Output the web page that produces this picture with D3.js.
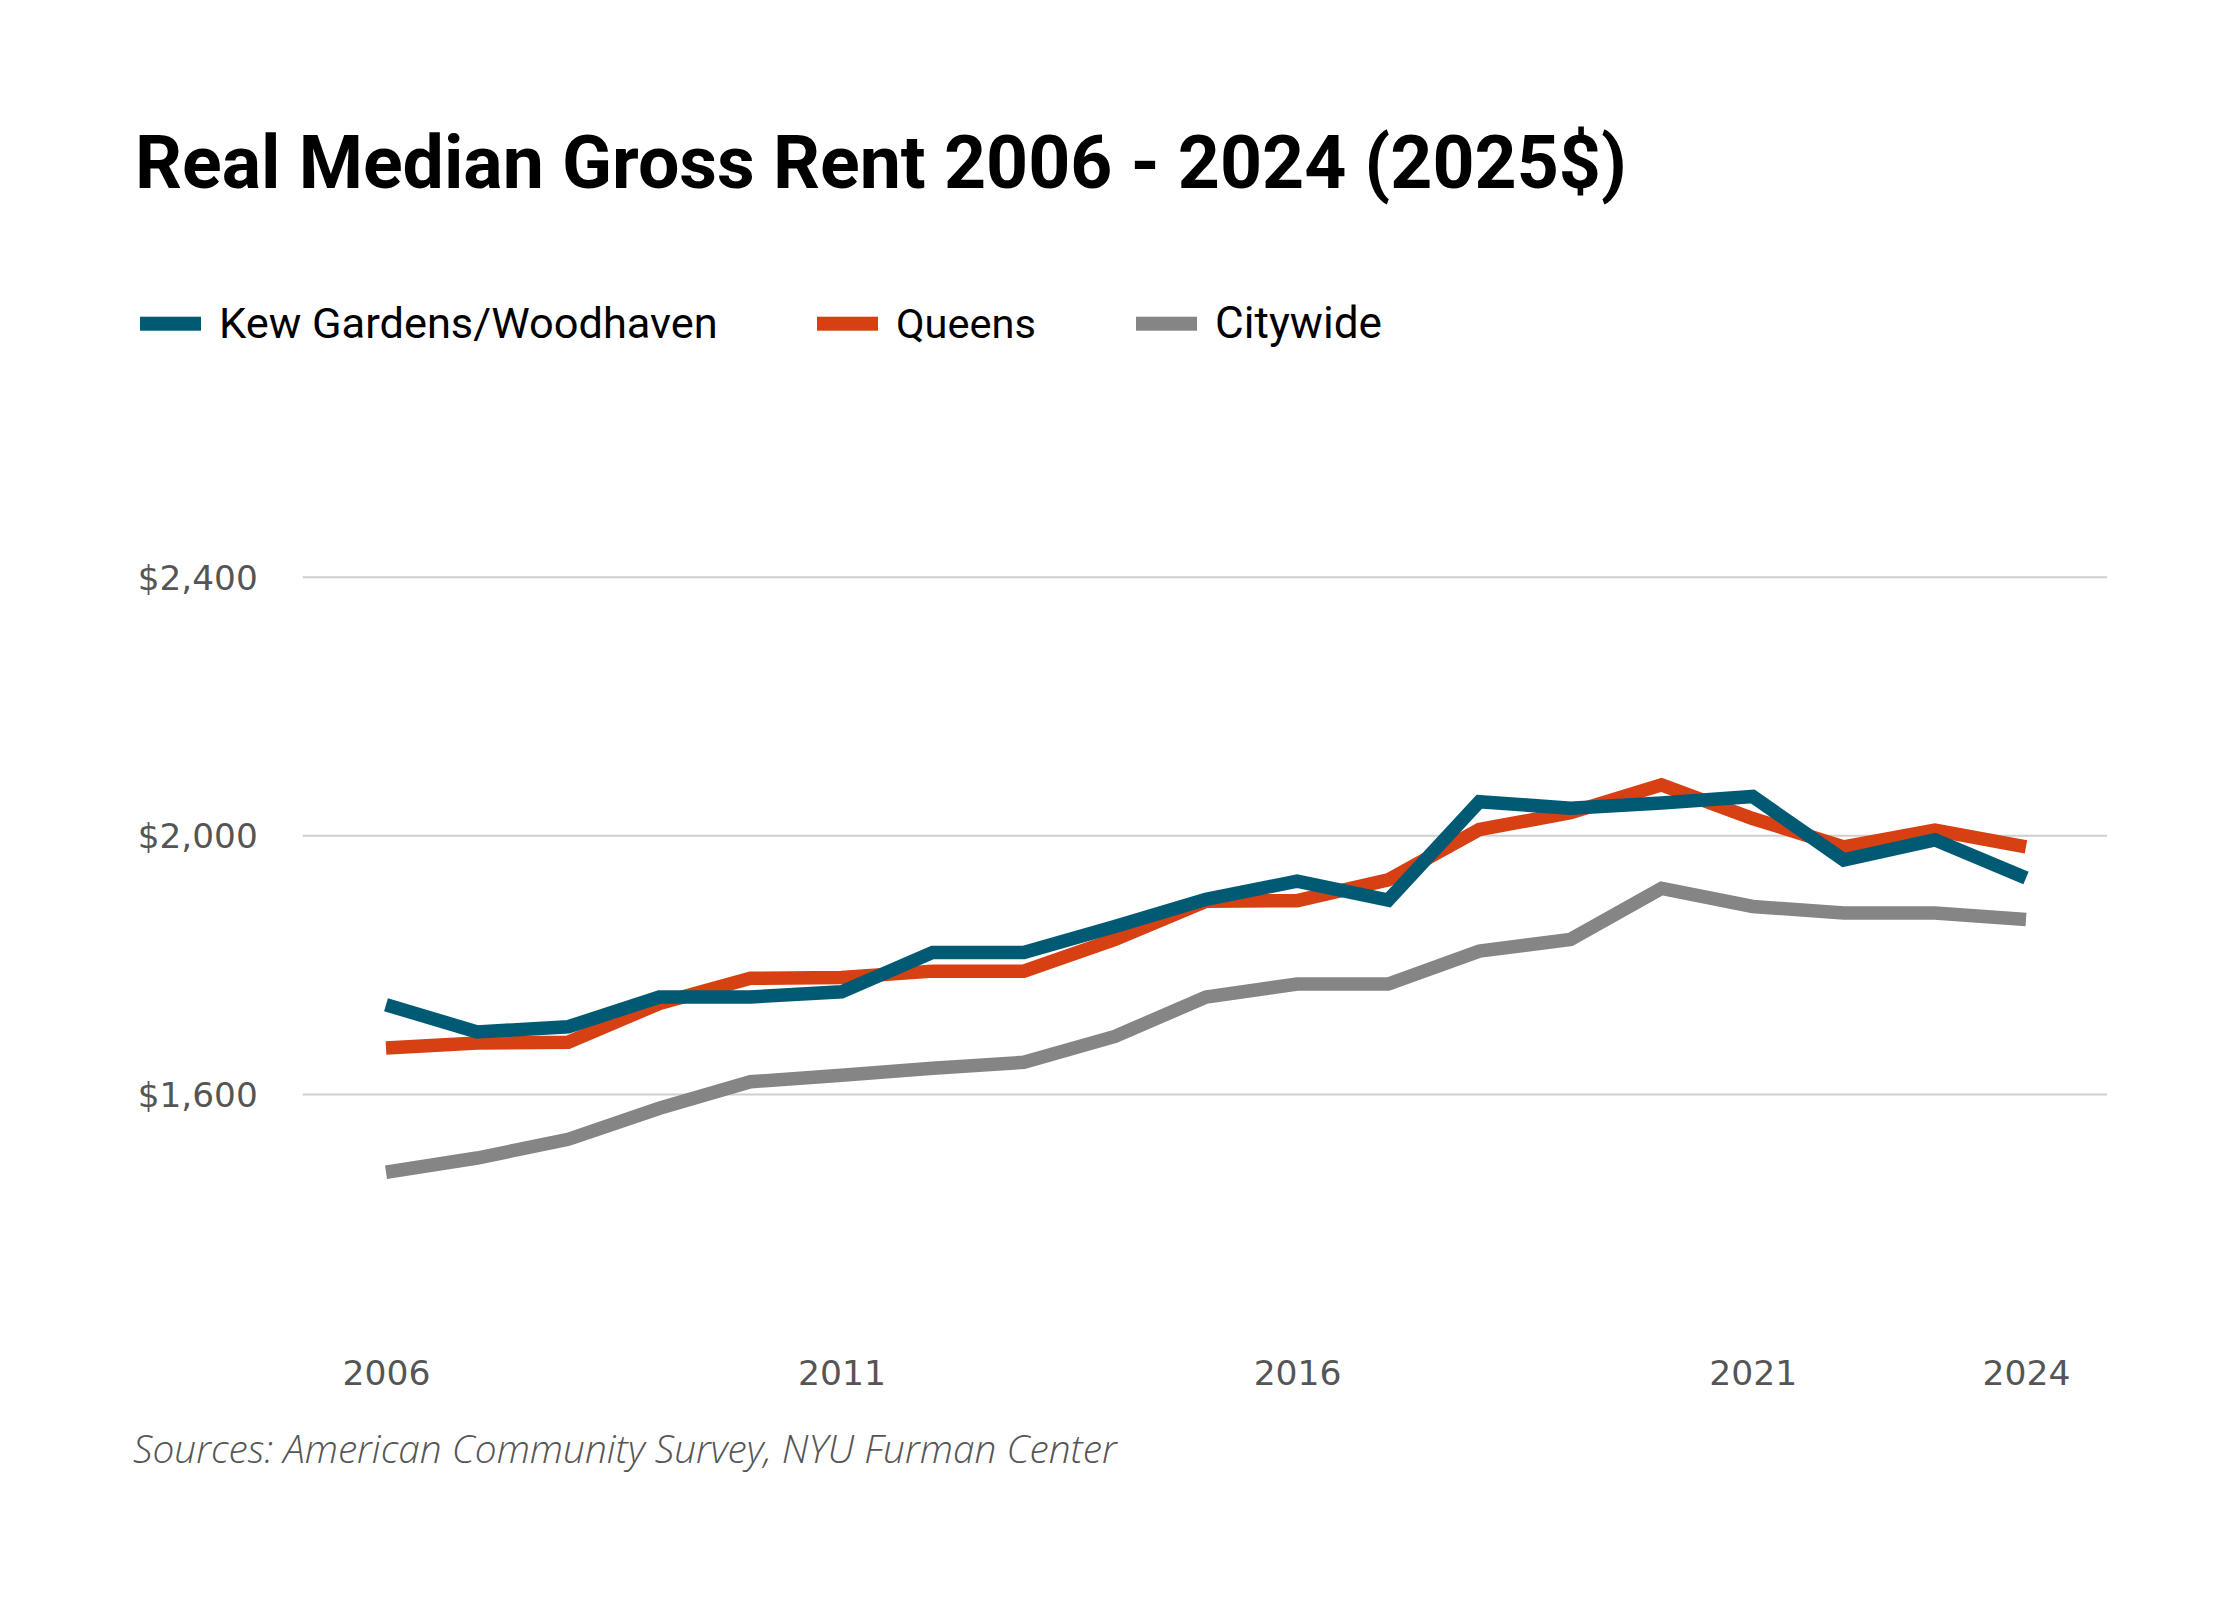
<!DOCTYPE html>
<html>
<head>
<meta charset="utf-8">
<script src="https://cdn.jsdelivr.net/npm/d3@7"></script>
<style>
  html, body { margin: 0; padding: 0; background: #ffffff; }
  svg { display: block; }
</style>
</head>
<body>
<svg id="chart" width="2240" height="1600"></svg>
<script>
// ---- data ----
const years = [2006,2007,2008,2009,2010,2011,2012,2013,2014,2015,2016,2017,2018,2019,2020,2021,2022,2023,2024];
const kewGardens = [1738,1696,1704,1750,1750,1758,1819,1819,1859,1901,1929,1900,2052,2042,2050,2060,1962,1993,1934];
const queens     = [1671,1679,1680,1740,1779,1780,1790,1790,1839,1898,1899,1931,2009,2035,2078,2026,1982,2008,1982];
const citywide   = [1479,1501,1530,1578,1619,1629,1640,1649,1689,1750,1770,1770,1821,1839,1918,1890,1880,1880,1870];
const seriesNames = ["Kew Gardens/Woodhaven", "Queens", "Citywide"];
const yTicks = [1600, 2000, 2400];
const xTicks = [2006, 2011, 2016, 2021, 2024];
const titleText = "Real Median Gross Rent 2006 - 2024 (2025$)";
const sourceText = "Sources: American Community Survey, NYU Furman Center";

const colors = ["#005a74", "#d64012", "#858585"];
const seriesValues = [kewGardens, queens, citywide];

const svg = d3.select("#chart");

const x = d3.scaleLinear().domain([2006, 2024]).range([386, 2026]);
const y = d3.scaleLinear().domain([1200, 2600]).range([1352.7, 447.3]);

function fit(sel, target) {
  const node = sel.node();
  const w = node.getComputedTextLength();
  const fs = parseFloat(sel.attr("font-size"));
  sel.attr("font-size", fs * target / w);
}
function fitGroup(sel, refNode, target) {
  const w = refNode.getComputedTextLength();
  const fs = parseFloat(d3.select(refNode).attr("font-size"));
  sel.attr("font-size", fs * target / w);
}

// title
const title = svg.append("text")
  .attr("x", 135).attr("y", 188)
  .attr("font-family", "Roboto, 'Open Sans', sans-serif")
  .attr("font-weight", 700)
  .attr("font-size", 66)
  .attr("fill", "#000")
  .text(titleText);
fit(title, 1492);

// legend
const legendX = [140, 817, 1136];
const legendW = [499, 140, 167];
seriesNames.forEach((name, i) => {
  svg.append("rect")
    .attr("x", legendX[i]).attr("y", 316.7)
    .attr("width", 61).attr("height", 14)
    .attr("fill", colors[i]);
  const t = svg.append("text")
    .attr("x", legendX[i] + 79).attr("y", 338)
    .attr("font-family", "Roboto, 'Open Sans', sans-serif")
    .attr("font-size", 40)
    .attr("fill", "#000")
    .text(name);
  fit(t, legendW[i]);
});

// grid + y axis
const yAxis = d3.axisLeft(y)
  .tickValues(yTicks)
  .tickSize(-(2107 - 302.7))
  .tickPadding(45)
  .tickFormat(d => "$" + d3.format(",")(d));
const gy = svg.append("g").attr("transform", "translate(302.7,0)").call(yAxis);
gy.select(".domain").remove();
gy.selectAll(".tick line").attr("stroke", "#cfcfcf").attr("stroke-width", 2);
const yLabels = gy.selectAll(".tick text")
  .attr("font-family", "'DejaVu Sans', Lato, sans-serif")
  .attr("font-size", 30)
  .attr("fill", "#555")
  .attr("dy", "0.36em");
fitGroup(yLabels, yLabels.nodes()[2], 120);

// x axis
const xAxis = d3.axisBottom(x)
  .tickValues(xTicks)
  .tickSize(0)
  .tickPadding(0)
  .tickFormat(d3.format("d"));
const gx = svg.append("g").attr("transform", "translate(0,1373)").call(xAxis);
gx.select(".domain").remove();
const xLabels = gx.selectAll(".tick text")
  .attr("font-family", "'DejaVu Sans', Lato, sans-serif")
  .attr("font-size", 30)
  .attr("fill", "#555")
  .attr("dy", "0.36em");
fitGroup(xLabels, xLabels.nodes()[0], 88);

// lines
const line = d3.line()
  .x((d, i) => x(years[i]))
  .y(d => y(d));
seriesValues.slice().reverse().forEach((vals, ri) => {
  const i = seriesValues.length - 1 - ri;
  svg.append("path")
    .datum(vals)
    .attr("d", line)
    .attr("fill", "none")
    .attr("stroke", colors[i])
    .attr("stroke-width", 13.5)
    .attr("stroke-linejoin", "miter")
    .attr("stroke-linecap", "butt");
});

// source
const src = svg.append("text")
  .attr("x", 133).attr("y", 1463)
  .attr("font-family", "'Open Sans', Lato, sans-serif")
  .attr("font-style", "italic")
  .attr("font-weight", 300)
  .attr("font-size", 34)
  .attr("fill", "#555")
  .text(sourceText);
fit(src, 984);
</script>
</body>
</html>
